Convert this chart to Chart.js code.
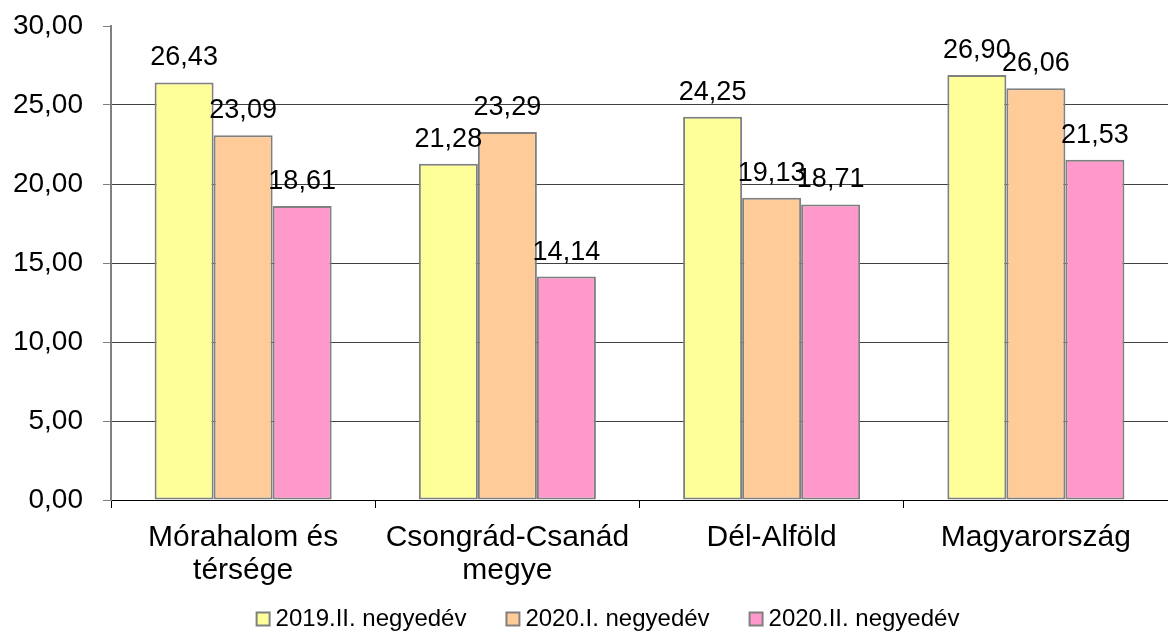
<!DOCTYPE html>
<html>
<head>
<meta charset="utf-8">
<script src="https://cdn.jsdelivr.net/npm/chart.js@4/dist/chart.umd.min.js"></script>
<style>
  html, body { margin: 0; padding: 0; background: #fff; }
  #wrap { width: 1168px; height: 632px; }
</style>
</head>
<body>
<div id="wrap"><canvas id="c" width="1168" height="632"></canvas></div>
<script>
const categories = [['Mórahalom és', 'térsége'], ['Csongrád-Csanád', 'megye'], 'Dél-Alföld', 'Magyarország'];
const seriesNames = ['2019.II. negyedév', '2020.I. negyedév', '2020.II. negyedév'];
const q2019II = [26.43, 21.28, 24.25, 26.90];
const q2020I = [23.09, 23.29, 19.13, 26.06];
const q2020II = [18.61, 14.14, 18.71, 21.53];
const yTicks = [0, 5, 10, 15, 20, 25, 30];

const colors = ['#FFFF99', '#FFCC99', '#FF99CC'];
const FONT = "'Liberation Sans', Arial, sans-serif";
const fmt = v => v.toFixed(2).replace('.', ',');

const valueLabels = {
  id: 'valueLabels',
  afterDatasetsDraw(chart) {
    const ctx = chart.ctx;
    ctx.save();
    ctx.font = '27px ' + FONT;
    ctx.fillStyle = '#000';
    ctx.textAlign = 'center';
    ctx.textBaseline = 'alphabetic';
    chart.data.datasets.forEach((ds, i) => {
      chart.getDatasetMeta(i).data.forEach((bar, j) => {
        ctx.fillText(fmt(ds.data[j]), bar.x, bar.y - 17);
      });
    });
    ctx.restore();
  }
};

const bottomLegend = {
  id: 'bottomLegend',
  afterDraw(chart) {
    const ctx = chart.ctx;
    const box = 13, textGap = 6, itemGap = 40, cx = 608, cy = 619;
    ctx.save();
    ctx.font = '24px ' + FONT;
    const items = chart.data.datasets.map(ds => ({ ds, w: ctx.measureText(ds.label).width }));
    const total = items.reduce((s, it) => s + box + textGap + it.w, 0) + itemGap * (items.length - 1);
    let x = cx - total / 2;
    items.forEach(it => {
      ctx.fillStyle = it.ds.backgroundColor;
      ctx.fillRect(x, cy - box / 2, box, box);
      ctx.strokeStyle = '#808080';
      ctx.lineWidth = 2;
      ctx.strokeRect(x, cy - box / 2, box, box);
      ctx.fillStyle = '#000';
      ctx.textAlign = 'left';
      ctx.textBaseline = 'middle';
      ctx.fillText(it.ds.label, x + box + textGap, cy);
      x += box + textGap + it.w + itemGap;
    });
    ctx.restore();
  }
};

new Chart(document.getElementById('c'), {
  type: 'bar',
  data: {
    labels: categories,
    datasets: [q2019II, q2020I, q2020II].map((d, i) => ({
      label: seriesNames[i],
      data: d,
      backgroundColor: colors[i],
      borderColor: '#808080',
      borderWidth: 2,
      borderSkipped: false,
      categoryPercentage: 0.67,
      barPercentage: 1
    }))
  },
  options: {
    responsive: false,
    animation: false,
    layout: { padding: { top: 26, right: -8, bottom: 36, left: 0 } },
    plugins: {
      tooltip: { enabled: false },
      legend: { display: false }
    },
    scales: {
      x: {
        offset: true,
        grid: {
          offset: true,
          drawOnChartArea: false,
          drawTicks: true,
          tickLength: 8,
          color: '#000'
        },
        border: { display: true, color: '#000', width: 1 },
        ticks: {
          color: '#000',
          padding: 13,
          maxRotation: 0,
          font: { family: FONT, size: 30, lineHeight: 1.1 }
        },
        afterFit(scale) { scale.height = 96; scale.paddingLeft = 0; scale.paddingRight = 0; }
      },
      y: {
        min: 0,
        max: 30,
        afterBuildTicks(scale) {
          scale.ticks = yTicks.map(v => ({ value: v }));
        },
        grid: {
          color: c => (c.tick && c.tick.value === 30) ? 'rgba(0,0,0,0)' : (c.tick && c.tick.value === 0 ? '#000' : '#404040'),
          tickColor: '#808080',
          tickLength: 8,
          lineWidth: 1
        },
        border: { display: true, color: '#808080', width: 2 },
        ticks: {
          color: '#000',
          padding: 20,
          font: { family: FONT, size: 28 },
          callback: v => fmt(v)
        },
        afterFit(scale) { scale.width = 111; scale.paddingTop = 0; scale.paddingBottom = 0; }
      }
    }
  },
  plugins: [valueLabels, bottomLegend]
});
</script>
</body>
</html>
